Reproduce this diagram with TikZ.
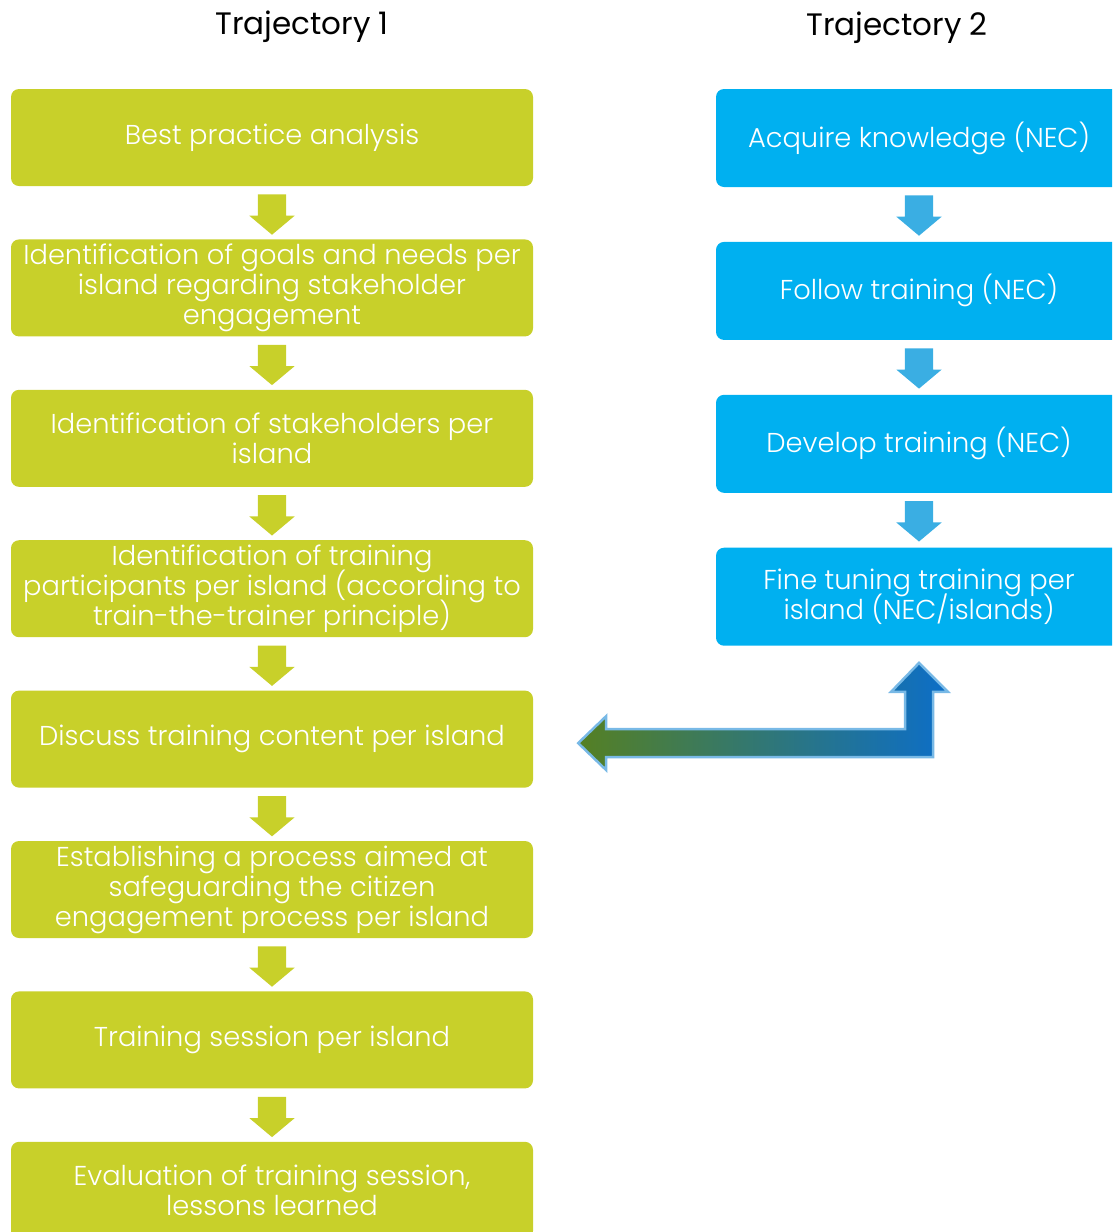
\documentclass[tikz,border=0pt]{standalone}
\usepackage{fontspec}
\setmainfont{Poppins}[UprightFont={* Light}]
\newfontfamily\headfont{Poppins}
\usetikzlibrary{positioning,shapes.arrows,calc}
\definecolor{trajgreen}{RGB}{200,208,42}
\definecolor{trajblue}{RGB}{0,176,240}
\definecolor{dropblue}{RGB}{58,174,227}
\definecolor{leafgreen}{RGB}{85,128,35}
\definecolor{deepblue}{RGB}{12,110,200}
\definecolor{rimblue}{RGB}{120,185,230}
\newcommand{\boxfont}{\fontsize{27.3}{30}\selectfont\lineskiplimit-20pt\relax}

\begin{document}
\begin{tikzpicture}[x=1pt, y=1pt, node distance=53pt,
	greenbox/.style={rectangle, rounded corners=8pt, fill=trajgreen, text=white, minimum width=522pt, minimum height=97pt, align=center, font=\boxfont},
	bluebox/.style={greenbox, fill=trajblue, minimum width=406pt, minimum height=98pt},
	greendrop/.style={single arrow, draw=none, fill=trajgreen, rotate=-90, anchor=tail, minimum height=37pt, inner sep=14pt, single arrow head extend=8.5pt, single arrow tip angle=100},
	bluedrop/.style={greendrop, fill=dropblue},
	title/.style={font=\headfont\fontsize{31}{34}\selectfont, text=black}]
	\clip (0,0) rectangle (1112,-1232);

	\node[title] (t1) at (302,-27) {Trajectory 1};
	\node[title] (t2) at (897,-28) {Trajectory 2};

	\node[greenbox] (b1) at (272,-137.5) {Best practice analysis};
	\node[greenbox] (b2)[below = of b1] {Identification of goals and needs per\\island regarding stakeholder\\engagement};
	\node[greenbox] (b3)[below = of b2] {Identification of stakeholders per\\island};
	\node[greenbox] (b4)[below = of b3] {Identification of training\\participants per island (according to\\train-the-trainer principle)};
	\node[greenbox] (b5)[below = of b4] {Discuss training content per island};
	\node[greenbox] (b6)[below = of b5] {Establishing a process aimed at\\safeguarding the citizen\\engagement process per island};
	\node[greenbox] (b7)[below = of b6] {Training session per island};
	\node[greenbox] (b8)[below = of b7] {Evaluation of training session,\\lessons learned};

	\node[bluebox] (r1) at (919,-138) {Acquire knowledge (NEC)};
	\node[bluebox] (r2)[below = 54.5pt of r1] {Follow training (NEC)};
	\node[bluebox] (r3)[below = 54.5pt of r2] {Develop training (NEC)};
	\node[bluebox] (r4)[below = 54.5pt of r3] {Fine tuning training per\\island (NEC/islands)};

	\node[greendrop] (d12) at ([yshift=-8pt]b1.south) {};
	\node[greendrop] (d23) at ([yshift=-8pt]b2.south) {};
	\node[greendrop] (d34) at ([yshift=-8pt]b3.south) {};
	\node[greendrop] (d45) at ([yshift=-8pt]b4.south) {};
	\node[greendrop] (d56) at ([yshift=-8pt]b5.south) {};
	\node[greendrop] (d67) at ([yshift=-8pt]b6.south) {};
	\node[greendrop] (d78) at ([yshift=-8pt]b7.south) {};

	\node[bluedrop] (e12) at ([yshift=-8pt]r1.south) {};
	\node[bluedrop] (e23) at ([yshift=-8pt]r2.south) {};
	\node[bluedrop] (e34) at ([yshift=-8pt]r3.south) {};

	% bent double arrow between the two trajectories
	\coordinate (tipL) at ([xshift=45pt, yshift=-4pt]b5.east);
	\coordinate (tipU) at ([yshift=-17pt]r4.south);
	\coordinate (bend) at (tipU |- tipL);
	\shadedraw[left color=leafgreen, right color=deepblue, draw=rimblue, line width=2.5pt, line join=miter]
	(tipL) -- ++(28,27) -- ++(0,-13)
	-- ([shift={(-14,14)}]bend) -- ([shift={(-14,-29)}]tipU) -- ([shift={(-28,-29)}]tipU)
	-- (tipU) -- ([shift={(29,-29)}]tipU) -- ([shift={(14,-29)}]tipU)
	-- ([shift={(14,-14)}]bend) -- ([shift={(28,-14)}]tipL) -- ++(0,-13) -- cycle;
\end{tikzpicture}
\end{document}
